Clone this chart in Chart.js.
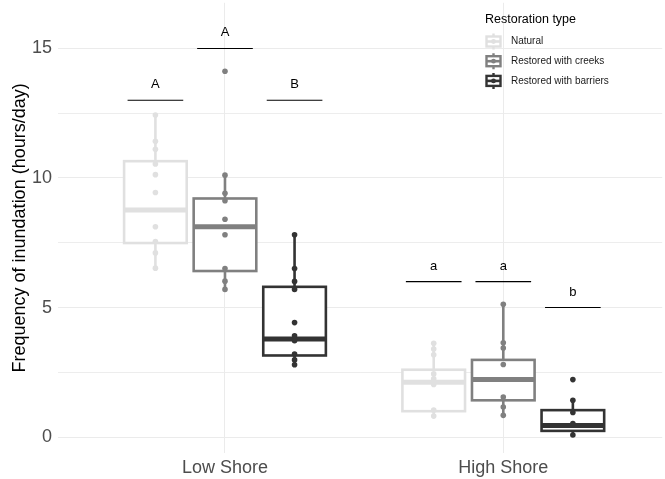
<!DOCTYPE html>
<html>
<head>
<meta charset="utf-8">
<script src="https://cdn.jsdelivr.net/npm/chart.js@4/dist/chart.umd.min.js"></script>
<style>
  html, body { margin: 0; padding: 0; background: #fff; overflow: hidden; }
  canvas { display: block; }
</style>
</head>
<body>
<canvas id="c" width="665" height="479"></canvas>
<script>
// Sites on the x axis and the three restoration types
const sites = ['Low Shore', 'High Shore'];
const types = ['Natural', 'Restored with creeks', 'Restored with barriers'];
const typeColors = ['#e0e0e0', '#808080', '#333333'];
const yTicks = [0, 2.5, 5, 7.5, 10, 12.5, 15];

// Individual observations (hours/day), one list per site
const naturalPts  = [[12.43, 11.42, 11.11, 10.54, 10.13, 9.44, 8.12, 7.55, 7.11, 6.52],
                     [3.62, 3.40, 3.18, 2.44, 2.25, 2.03, 1.04, 0.81]];
const creeksPts   = [[14.12, 10.11, 9.41, 9.12, 8.41, 7.81, 6.51, 6.02, 5.70],
                     [5.13, 3.64, 3.44, 2.80, 1.55, 1.16, 0.84]];
const barriersPts = [[7.81, 6.51, 6.01, 5.70, 4.42, 3.91, 3.72, 3.21, 2.98, 2.79],
                     [2.22, 1.42, 0.95, 0.52, 0.08]];

// Box summaries per site: [lower whisker, Q1, median, Q3, upper whisker]
const naturalBox  = [[6.52, 7.49, 8.77, 10.65, 12.43], [0.81, 1.00, 2.12, 2.60, 3.62]];
const creeksBox   = [[5.70, 6.41, 8.12, 9.21, 10.11],  [0.84, 1.42, 2.22, 2.98, 5.13]];
const barriersBox = [[2.79, 3.15, 3.79, 5.80, 7.81],   [0.08, 0.24, 0.45, 1.04, 1.42]];

// Significance groupings: bar height per type and its letter, per site
const sigHeights = [[13, 15, 13], [6, 6, 5]];
const sigLetters = [['A', 'A', 'B'], ['a', 'a', 'b']];

const allPts = [naturalPts, creeksPts, barriersPts];
const allBoxes = [naturalBox, creeksBox, barriersBox];

const FONT = "'Liberation Sans', Arial, Helvetica, sans-serif";
Chart.defaults.font.family = FONT;

const dodge = [-0.25, 0, 0.25];
const halfBox = 0.1125;
const halfSig = 0.1;

const datasets = types.map((name, t) => ({
  label: name,
  data: allPts[t].flatMap((vals, s) => vals.map(v => ({ x: s + 1 + dodge[t], y: v }))),
  backgroundColor: typeColors[t],
  borderWidth: 0,
  pointRadius: 2.8,
  pointHoverRadius: 2.8
}));

const boxPlugin = {
  id: 'boxes',
  beforeDatasetsDraw(chart) {
    const { ctx, scales: { x, y } } = chart;
    allBoxes.forEach((perSite, t) => {
      perSite.forEach((b, s) => {
        const c = s + 1 + dodge[t];
        const xl = x.getPixelForValue(c - halfBox);
        const xr = x.getPixelForValue(c + halfBox);
        const xc = x.getPixelForValue(c);
        const [lo, q1, md, q3, hi] = b.map(v => y.getPixelForValue(v));
        ctx.save();
        ctx.strokeStyle = typeColors[t];
        ctx.lineWidth = 2.6;
        ctx.beginPath();
        ctx.moveTo(xc, q3); ctx.lineTo(xc, hi);
        ctx.moveTo(xc, q1); ctx.lineTo(xc, lo);
        ctx.stroke();
        ctx.fillStyle = '#ffffff';
        ctx.fillRect(xl, q3, xr - xl, q1 - q3);
        ctx.strokeRect(xl, q3, xr - xl, q1 - q3);
        ctx.lineWidth = 5;
        ctx.lineCap = 'butt';
        ctx.beginPath();
        ctx.moveTo(xl, md); ctx.lineTo(xr, md);
        ctx.stroke();
        ctx.restore();
      });
    });
  },
  afterDatasetsDraw(chart) {
    const { ctx, scales: { x, y } } = chart;
    ctx.save();
    // significance bars and letters
    sigHeights.forEach((hs, s) => {
      hs.forEach((h, t) => {
        const c = s + 1 + dodge[t];
        const py = y.getPixelForValue(h);
        ctx.strokeStyle = '#000';
        ctx.lineWidth = 1.1;
        ctx.beginPath();
        ctx.moveTo(x.getPixelForValue(c - halfSig), py);
        ctx.lineTo(x.getPixelForValue(c + halfSig), py);
        ctx.stroke();
        ctx.fillStyle = '#000';
        ctx.font = '13px ' + FONT;
        ctx.textAlign = 'center';
        ctx.textBaseline = 'alphabetic';
        ctx.fillText(sigLetters[s][t], x.getPixelForValue(c), py - 12);
      });
    });

    // legend with boxplot key glyphs
    ctx.textAlign = 'left';
    ctx.textBaseline = 'middle';
    ctx.fillStyle = '#000';
    ctx.font = '12.5px ' + FONT;
    ctx.fillText('Restoration type', 485, 19.5);
    ctx.font = '10px ' + FONT;
    types.forEach((name, t) => {
      const cy = 41.5 + t * 19.7;
      const cx = 493.5;
      ctx.strokeStyle = typeColors[t];
      ctx.fillStyle = typeColors[t];
      ctx.lineWidth = 2.4;
      ctx.beginPath();
      ctx.moveTo(cx, cy - 8); ctx.lineTo(cx, cy - 5);
      ctx.moveTo(cx, cy + 5); ctx.lineTo(cx, cy + 8);
      ctx.stroke();
      ctx.strokeRect(cx - 7, cy - 5, 14, 10);
      ctx.lineWidth = 2.6;
      ctx.beginPath();
      ctx.moveTo(cx - 7, cy); ctx.lineTo(cx + 7, cy);
      ctx.stroke();
      ctx.beginPath();
      ctx.arc(cx, cy, 2.4, 0, Math.PI * 2);
      ctx.fill();
      ctx.fillStyle = '#1a1a1a';
      ctx.fillText(name, 511, cy);
    });
    ctx.restore();
  }
};

new Chart(document.getElementById('c'), {
  type: 'scatter',
  data: { datasets },
  plugins: [boxPlugin],
  options: {
    responsive: false,
    animation: false,
    events: [],
    layout: { padding: 0 },
    plugins: { legend: { display: false }, tooltip: { enabled: false } },
    scales: {
      x: {
        type: 'linear',
        min: 0.4,
        max: 2.571,
        afterBuildTicks: sc => { sc.ticks = sites.map((_, i) => ({ value: i + 1 })); },
        afterFit: sc => { sc.height = 26; sc.paddingLeft = 0; sc.paddingRight = 0; },
        ticks: {
          callback: v => sites[v - 1] ?? '',
          font: { size: 18 },
          color: '#4d4d4d',
          padding: 4,
          maxRotation: 0,
          autoSkip: false
        },
        grid: { color: '#ebebeb', lineWidth: 1, drawTicks: false },
        border: { display: false }
      },
      y: {
        min: -0.614,
        max: 16.763,
        afterBuildTicks: sc => { sc.ticks = yTicks.map(v => ({ value: v })); },
        afterFit: sc => { sc.width = 58; sc.paddingTop = 0; sc.paddingBottom = 0; },
        ticks: {
          callback: v => (v % 5 === 0 ? String(v) : ''),
          font: { size: 18 },
          color: '#4d4d4d',
          padding: 6
        },
        grid: {
          color: '#ebebeb',
          lineWidth: c => (c.tick && c.tick.value % 5 === 0 ? 1.1 : 0.9),
          drawTicks: false
        },
        border: { display: false },
        title: {
          display: true,
          text: 'Frequency of inundation (hours/day)',
          font: { size: 18 },
          color: '#000',
          padding: { top: 9, bottom: 0 }
        }
      }
    }
  }
});
</script>
</body>
</html>
